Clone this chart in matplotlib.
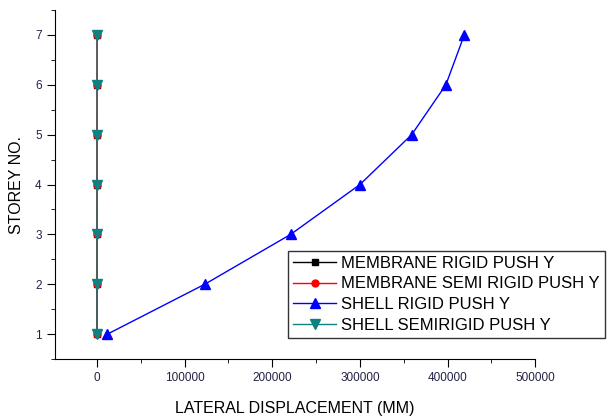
import numpy as np
import matplotlib.pyplot as plt
from matplotlib.ticker import MultipleLocator

plt.rcParams['font.family'] = ['Liberation Sans', 'DejaVu Sans']

## DATA ##
storey = [1, 2, 3, 4, 5, 6, 7]
membrane_rigid = [150, 180, 220, 260, 300, 330, 350]
membrane_semi = [120, 160, 200, 240, 280, 310, 340]
shell_rigid = [12000, 123000, 221000, 300000, 359000, 398000, 419000]
shell_semi = [100, 140, 180, 220, 260, 290, 320]

labels = ["MEMBRANE RIGID PUSH Y", "MEMBRANE SEMI RIGID PUSH Y",
          "SHELL RIGID PUSH Y", "SHELL SEMIRIGID PUSH Y"]

fig = plt.figure(figsize=(6.16, 4.17), dpi=100)
ax = fig.add_axes([0.089, 0.139, 0.78, 0.837])

ax.plot(membrane_rigid, storey, color='black', marker='s', ms=5, lw=1, label=labels[0])
ax.plot(membrane_semi, storey, color='red', marker='o', ms=5, lw=1, label=labels[1])
ax.plot(shell_rigid, storey, color='blue', marker='^', ms=7, lw=1, label=labels[2])
ax.plot(shell_semi, storey, color='#108080', marker='v', ms=7, lw=1, label=labels[3])

ax.set_xlim(-48000, 500000)
ax.set_ylim(0.5, 7.5)
ax.xaxis.set_major_locator(MultipleLocator(100000))
ax.xaxis.set_minor_locator(MultipleLocator(50000))
ax.yaxis.set_major_locator(MultipleLocator(1))
ax.yaxis.set_minor_locator(MultipleLocator(0.5))

ax.spines['top'].set_visible(False)
ax.spines['right'].set_visible(False)
ax.tick_params(which='major', direction='out', length=6, labelsize=8.5, colors='black')
ax.tick_params(which='minor', direction='out', length=3)
for lab in ax.get_xticklabels() + ax.get_yticklabels():
    lab.set_color('#222244')

ax.set_xlabel("LATERAL DISPLACEMENT (MM)", fontsize=11.5, labelpad=12)
ax.set_ylabel("STOREY NO.", fontsize=11.5, labelpad=8)

leg = ax.legend(loc='lower left', bbox_to_anchor=(0.485, 0.06), fontsize=12,
                frameon=True, fancybox=False, edgecolor='black', handlelength=2.6,
                borderpad=0.3, labelspacing=0.35, handletextpad=0.3,
                borderaxespad=0)
leg.get_frame().set_linewidth(1)

fig.savefig("out.png", dpi=100)
